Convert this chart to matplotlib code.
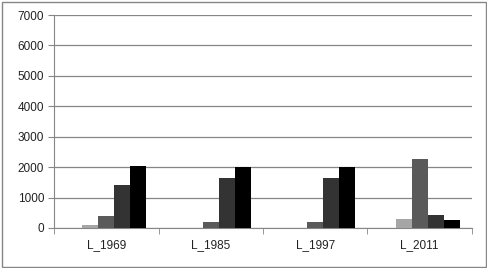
import numpy as np
import matplotlib
matplotlib.use("Agg")
import matplotlib.pyplot as plt
from matplotlib.patches import Rectangle

# data
categories = ["L_1969", "L_1985", "L_1997", "L_2011"]
series_1 = [0, 0, 0, 0]
series_2 = [90, 0, 0, 310]
series_3 = [390, 190, 190, 2280]
series_4 = [1400, 1650, 1650, 420]
series_5 = [2040, 2000, 2000, 265]
y_ticks = [0, 1000, 2000, 3000, 4000, 5000, 6000, 7000]

series = [series_1, series_2, series_3, series_4, series_5]
colors = ["#d9d9d9", "#a6a6a6", "#5a5a5a", "#333333", "#000000"]

plt.rcParams['font.family'] = ['Liberation Sans', 'DejaVu Sans']

fig = plt.figure(figsize=(4.87, 2.68), dpi=100)
ax = fig.add_axes([54 / 487, 40 / 268, 418 / 487, 213 / 268])

x = np.arange(len(categories))
bw = 0.153
for i, (vals, c) in enumerate(zip(series, colors)):
    ax.bar(x + (i - 2) * bw, vals, width=bw, color=c, zorder=3)

ax.set_xlim(-0.5, len(categories) - 0.5)
ax.set_ylim(0, 7000)
ax.set_yticks(y_ticks)
ax.set_xticks(x)
ax.set_xticklabels(categories)
ax.set_xticks(np.arange(len(categories) + 1) - 0.5, minor=True)
ax.tick_params(axis='x', which='major', length=0, pad=8, labelsize=8.5, labelcolor='#222222')
ax.tick_params(axis='x', which='minor', length=4, color='#868686', direction='out')
ax.tick_params(axis='y', length=4, color='#868686', pad=3, labelsize=8.5, labelcolor='#222222')

ax.yaxis.grid(True, color='#868686', linewidth=0.9, zorder=0)
for s in ['top', 'right']:
    ax.spines[s].set_visible(False)
ax.spines['left'].set_color('#868686')
ax.spines['bottom'].set_color('#868686')

# chart area border
fig.patches.append(Rectangle((1.5 / 487, 1.5 / 268), 484 / 487, 265 / 268,
                             transform=fig.transFigure, fill=False,
                             edgecolor='#868686', linewidth=1))

fig.savefig("out.png", dpi=100)
